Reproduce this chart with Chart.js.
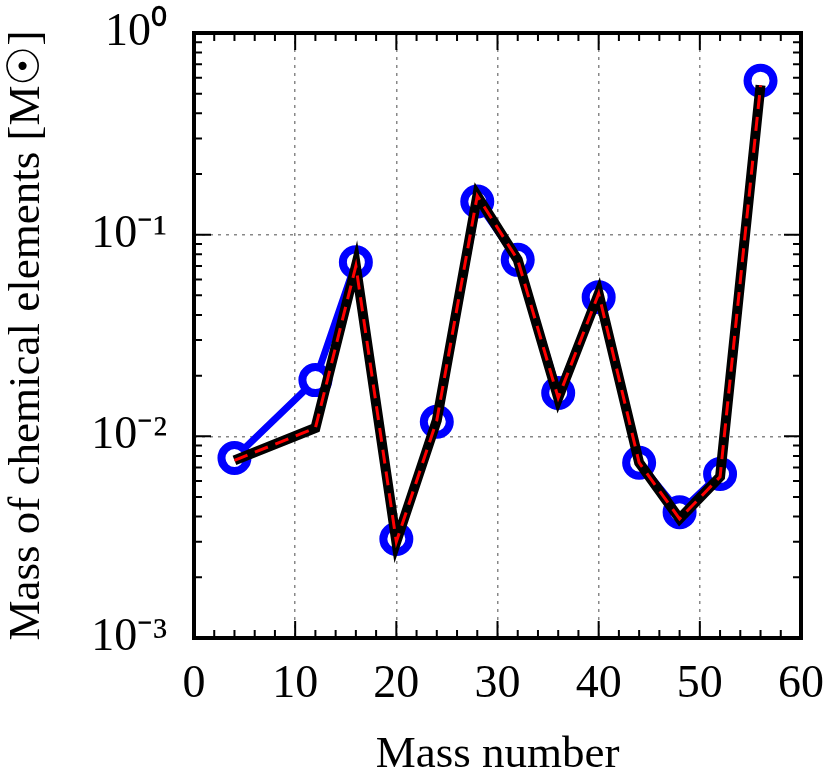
<!DOCTYPE html>
<html>
<head>
<meta charset="utf-8">
<script src="https://cdn.jsdelivr.net/npm/chart.js@4"></script>
<style>
  body { margin: 0; background: #fff; }
</style>
</head>
<body>
<canvas id="massChart" width="830" height="784"></canvas>
<script>
// mass numbers of the alpha elements
const massNumbers = [4, 12, 16, 20, 24, 28, 32, 36, 40, 44, 48, 52, 56];
// blue circles
const observedMass = [0.0078, 0.019, 0.073, 0.0031, 0.0118, 0.146, 0.075, 0.0164, 0.049, 0.0074, 0.0042, 0.0065, 0.58];
// black line with red dashes
const modelMass = [0.0076, 0.011, 0.070, 0.0030, 0.012, 0.156, 0.075, 0.0155, 0.051, 0.0074, 0.0039, 0.0063, 0.55];
const yTickValues = [0.001, 0.01, 0.1, 1];
const yTickLabels = ['10⁻³', '10⁻²', '10⁻¹', '10⁰'];

const toPoints = vals => massNumbers.map((m, i) => ({ x: m, y: vals[i] }));

// inward ticks on all four sides plus the heavy frame
const framePlugin = {
  id: 'frame',
  afterDatasetsDraw(chart) {
    const { ctx, chartArea: a, scales: { x, y } } = chart;
    ctx.save();
    ctx.strokeStyle = '#000';
    ctx.lineWidth = 2;
    ctx.beginPath();
    for (let v = 0; v <= 60; v += 2) {
      const px = x.getPixelForValue(v);
      const len = v % 10 === 0 ? 17 : 8;
      ctx.moveTo(px, a.bottom); ctx.lineTo(px, a.bottom - len);
      ctx.moveTo(px, a.top); ctx.lineTo(px, a.top + len);
    }
    for (let d = -3; d < 0; d++) {
      for (let m = 1; m <= 10; m++) {
        const py = y.getPixelForValue(m * Math.pow(10, d));
        const len = (m === 1 || m === 10) ? 17 : 8;
        ctx.moveTo(a.left, py); ctx.lineTo(a.left + len, py);
        ctx.moveTo(a.right, py); ctx.lineTo(a.right - len, py);
      }
    }
    ctx.stroke();
    ctx.lineWidth = 4;
    ctx.strokeRect(a.left, a.top, a.right - a.left, a.bottom - a.top);
    ctx.restore();
  }
};

const ctx = document.getElementById('massChart').getContext('2d');
new Chart(ctx, {
  type: 'line',
  data: {
    datasets: [
      {
        label: 'model dashes',
        data: toPoints(modelMass),
        borderColor: '#ff0000',
        borderWidth: 3,
        borderDash: [14, 8],
        pointRadius: 0,
        fill: false,
        order: 0
      },
      {
        label: 'model',
        data: toPoints(modelMass),
        borderColor: '#000000',
        borderWidth: 10,
        pointRadius: 0,
        fill: false,
        order: 1
      },
      {
        label: 'observed',
        data: toPoints(observedMass),
        borderColor: '#0000ff',
        borderWidth: 7,
        pointRadius: 13,
        pointBorderWidth: 8,
        pointBorderColor: '#0000ff',
        pointBackgroundColor: '#ffffff',
        fill: false,
        order: 2
      }
    ]
  },
  options: {
    responsive: false,
    animation: false,
    layout: { padding: { top: 33, right: 29, left: 0, bottom: 0 } },
    plugins: { legend: { display: false }, tooltip: { enabled: false } },
    scales: {
      x: {
        type: 'linear',
        min: 0,
        max: 60,
        ticks: {
          stepSize: 10,
          padding: 19,
          color: '#000',
          font: { family: 'Liberation Serif', size: 46 }
        },
        grid: {
          drawTicks: false,
          lineWidth: 1.5,
          color: c => (c.tick && (c.tick.value === 0 || c.tick.value === 60)) ? 'rgba(0,0,0,0)' : '#888'
        },
        border: { display: false, dash: [3, 5] },
        title: {
          display: true,
          text: 'Mass number',
          color: '#000',
          padding: { top: 0, bottom: 2 },
          font: { family: 'Liberation Serif', size: 45 }
        },
        afterFit: s => { s.height = 146; s.paddingLeft = 0; s.paddingRight = 0; }
      },
      y: {
        type: 'logarithmic',
        min: 0.001,
        max: 1,
        afterBuildTicks: s => { s.ticks = yTickValues.map(v => ({ value: v })); },
        ticks: {
          padding: 27,
          color: '#000',
          font: { family: 'Liberation Serif', size: 46 },
          callback: v => yTickLabels[yTickValues.findIndex(t => Math.abs(t - v) < v * 1e-6)]
        },
        grid: {
          drawTicks: false,
          lineWidth: 1.5,
          color: c => (c.tick && (c.tick.value === 0.001 || c.tick.value === 1)) ? 'rgba(0,0,0,0)' : '#888'
        },
        border: { display: false, dash: [3, 5] },
        title: {
          display: true,
          text: 'Mass of chemical elements [M☉]',
          color: '#000',
          padding: { top: 0, bottom: 0 },
          font: { family: 'Liberation Serif', size: 45 }
        },
        afterFit: s => { s.width = 194; s.paddingTop = 0; s.paddingBottom = 0; }
      }
    }
  },
  plugins: [framePlugin]
});
</script>
</body>
</html>
